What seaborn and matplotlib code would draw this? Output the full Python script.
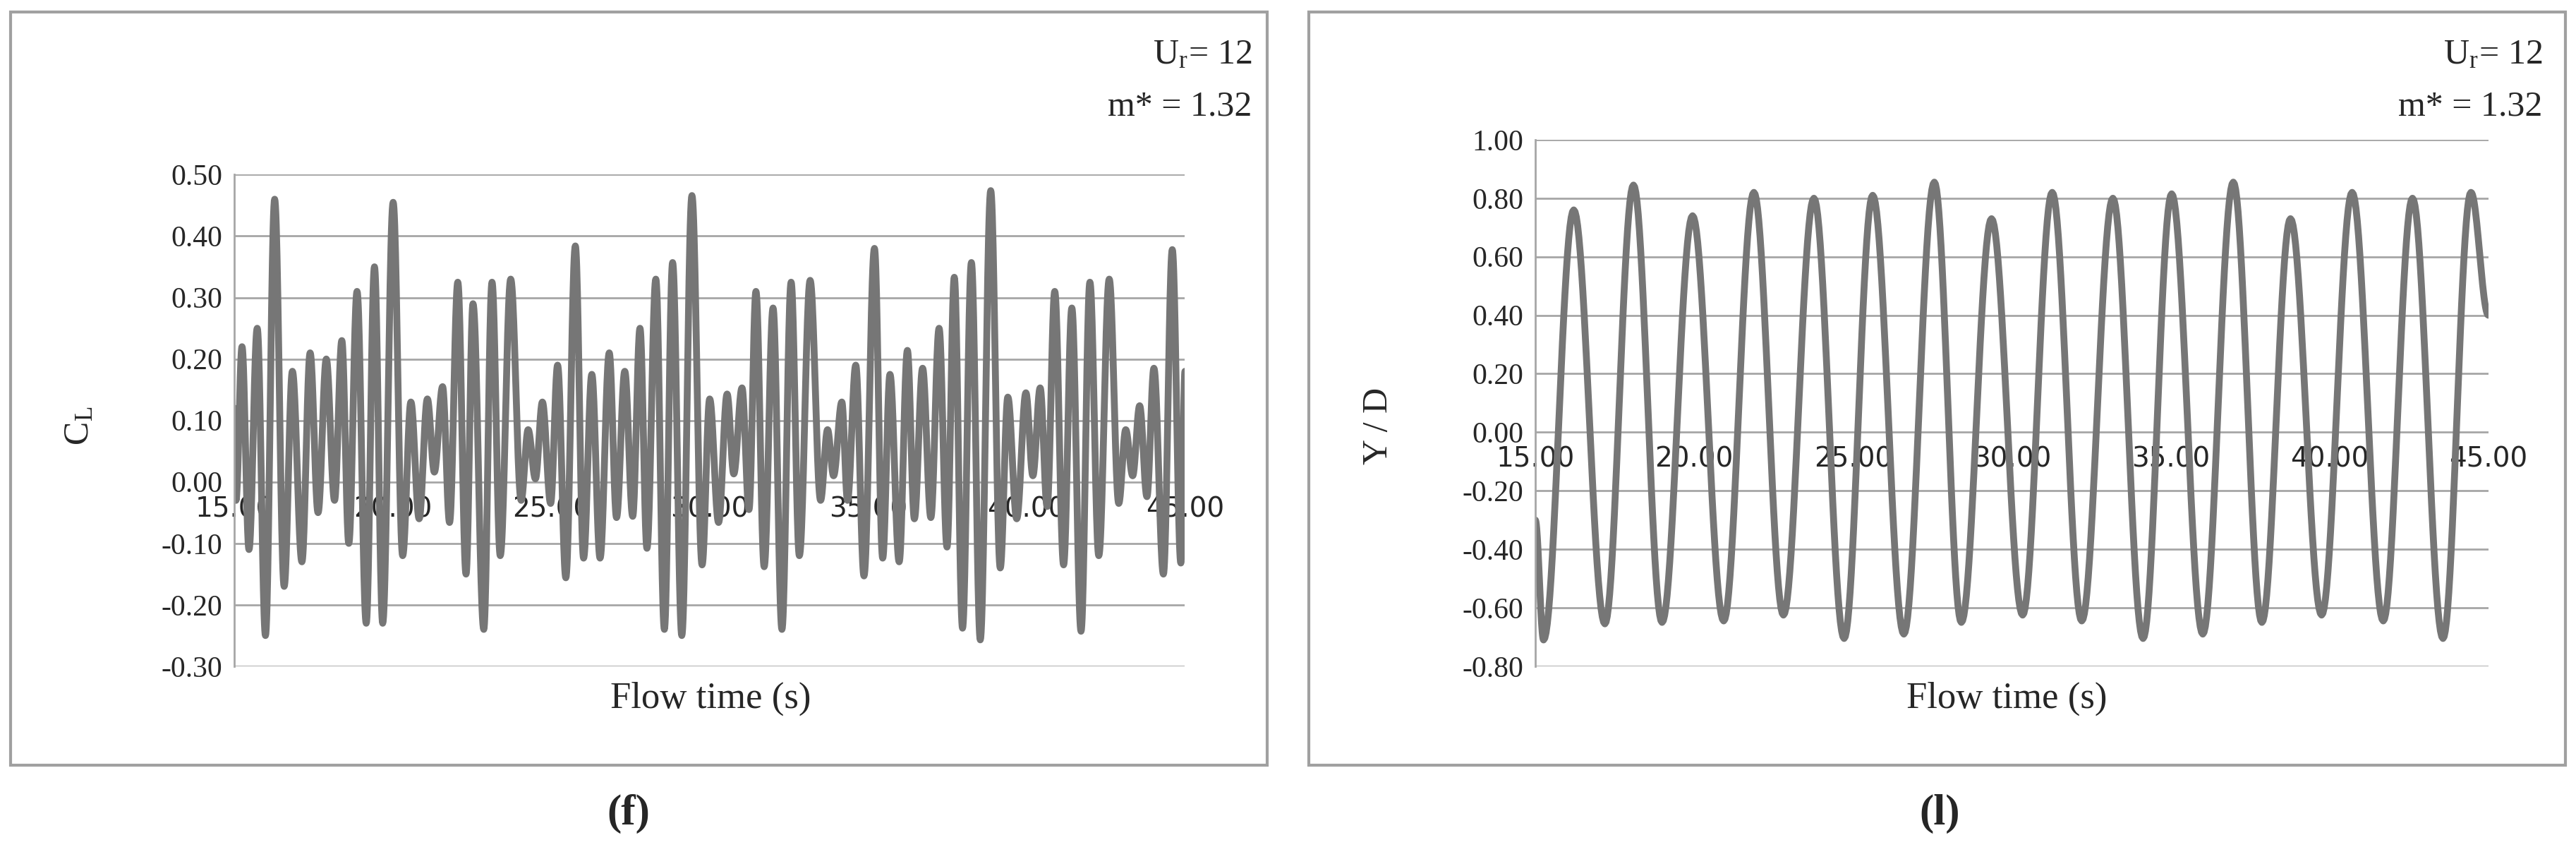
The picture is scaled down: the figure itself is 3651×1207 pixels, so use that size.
import numpy as np
import pandas as pd
import seaborn as sns
import matplotlib.pyplot as plt
from matplotlib.patches import Rectangle

# Lift coefficient: successive extrema
cl_time = [15.00, 15.05, 15.24, 15.46, 15.72, 15.98, 16.27, 16.57, 16.83, 17.13, 17.39, 17.64, 17.90,
           18.16, 18.39, 18.61, 18.87, 19.16, 19.42, 19.68, 20.01, 20.31, 20.57, 20.83, 21.09,
           21.31, 21.57, 21.79, 22.05, 22.31, 22.53, 22.87, 23.13, 23.39, 23.72, 24.05, 24.27,
           24.50, 24.72, 24.98, 25.20, 25.46, 25.76, 26.02, 26.28, 26.54, 26.83, 27.06, 27.32,
           27.57, 27.80, 28.02, 28.30, 28.57, 28.83, 29.12, 29.44, 29.76, 30.00, 30.28, 30.55,
           30.76, 31.02, 31.24, 31.46, 31.72, 32.00, 32.28, 32.57, 32.83, 33.17, 33.50, 33.72,
           33.91, 34.17, 34.35, 34.61, 34.87, 35.20, 35.46, 35.69, 35.98, 36.24, 36.46, 36.72,
           36.98, 37.24, 37.49, 37.72, 37.98, 38.26, 38.54, 38.87, 39.17, 39.41, 39.69, 39.98,
           40.20, 40.43, 40.65, 40.89, 41.17, 41.43, 41.72, 42.00, 42.28, 42.61, 42.91, 43.13,
           43.35, 43.57, 43.80, 44.02, 44.32, 44.60, 44.87, 45.00]
cl_value = [0.12, -0.03, 0.22, -0.11, 0.25, -0.25, 0.46, -0.17, 0.18, -0.13, 0.21, -0.05, 0.20,
            -0.03, 0.23, -0.10, 0.31, -0.23, 0.35, -0.23, 0.455, -0.12, 0.13, -0.06, 0.135,
            0.016, 0.155, -0.066, 0.325, -0.15, 0.29, -0.24, 0.325, -0.12, 0.33, -0.03, 0.085,
            0.005, 0.13, -0.035, 0.19, -0.156, 0.384, -0.124, 0.175, -0.124, 0.21, -0.058, 0.18,
            -0.056, 0.25, -0.108, 0.33, -0.24, 0.357, -0.25, 0.466, -0.135, 0.135, -0.066, 0.143,
            0.013, 0.153, -0.045, 0.31, -0.138, 0.283, -0.24, 0.325, -0.12, 0.328, -0.03, 0.085,
            0.01, 0.13, -0.03, 0.19, -0.153, 0.38, -0.124, 0.175, -0.13, 0.214, -0.06, 0.185,
            -0.058, 0.25, -0.106, 0.333, -0.238, 0.357, -0.257, 0.474, -0.14, 0.138, -0.06, 0.145,
            0.01, 0.153, -0.04, 0.31, -0.135, 0.283, -0.243, 0.325, -0.12, 0.33, -0.035, 0.085,
            0.01, 0.124, -0.024, 0.185, -0.15, 0.378, -0.132, 0.18]

# Displacement Y/D: successive extrema
yd_time = [15.00, 15.26, 16.21, 17.19, 18.09, 18.99, 19.95, 20.93, 21.88, 22.81, 23.77, 24.72,
           25.62, 26.60, 27.56, 28.41, 29.36, 30.34, 31.27, 32.20, 33.18, 34.13, 35.03, 36.01,
           36.97, 37.87, 38.77, 39.75, 40.71, 41.69, 42.61, 43.57, 44.45, 45.00]
yd_value = [-0.30, -0.71, 0.76, -0.655, 0.845, -0.65, 0.74, -0.645, 0.82, -0.625, 0.80, -0.705,
            0.81, -0.69, 0.855, -0.65, 0.73, -0.625, 0.82, -0.645, 0.80, -0.705, 0.815, -0.69,
            0.855, -0.65, 0.73, -0.625, 0.82, -0.645, 0.80, -0.705, 0.82, 0.40]

x_ticks = [15, 20, 25, 30, 35, 40, 45]


def smooth_track(times, values, n=24):
    # join successive extrema with half-cosine arcs so the trace looks like a signal
    tt, vv = [], []
    for i in range(len(times) - 1):
        s = np.linspace(0, 1, n, endpoint=False)
        tt.extend(times[i] + (times[i + 1] - times[i]) * s)
        vv.extend(values[i] + (values[i + 1] - values[i]) * (1 - np.cos(np.pi * s)) / 2)
    tt.append(times[-1])
    vv.append(values[-1])
    return pd.DataFrame({"t": tt, "v": vv})


def fmt(v):
    return f"{0.0 if abs(v) < 1e-9 else v:.2f}"


sns.set_style("white")
plt.rcParams["font.family"] = ["Liberation Serif", "DejaVu Serif"]
plt.rcParams["mathtext.fontset"] = "stix"

fig = plt.figure(figsize=(36.51, 12.07), dpi=100)

line_col = "#767676"
grid_col = "#a6a6a6"
box_col = "#a0a0a0"

panels = [
    dict(box=(0.004, 0.102, 0.488, 0.884), ax=(0.091, 0.218, 0.369, 0.577),
         data=smooth_track(cl_time, cl_value), ylim=(-0.3, 0.5), ystep=0.1,
         ylabel="C$_\\mathregular{L}$", ylab_x=0.031, tag="(f)", tag_x=0.244,
         label_x=0.276, txt_x=0.486),
    dict(box=(0.508, 0.102, 0.488, 0.884), ax=(0.596, 0.218, 0.370, 0.618),
         data=smooth_track(yd_time, yd_value), ylim=(-0.8, 1.0), ystep=0.2,
         ylabel="Y / D", ylab_x=0.535, tag="(l)", tag_x=0.753,
         label_x=0.779, txt_x=0.987),
]

for p in panels:
    fig.add_artist(Rectangle(p["box"][:2], p["box"][2], p["box"][3], transform=fig.transFigure,
                             fill=False, edgecolor=box_col, linewidth=3))
    ax = fig.add_axes(p["ax"])
    sns.lineplot(data=p["data"], x="t", y="v", ax=ax, color=line_col, linewidth=7,
                 estimator=None, sort=False)
    # x axis crosses at zero, Excel style (set before ticks: this resets them)
    ax.spines["bottom"].set_position(("data", 0))
    ax.spines["bottom"].set_visible(False)
    for s in ["top", "right"]:
        ax.spines[s].set_visible(False)
    ax.spines["left"].set_color(grid_col)
    ax.spines["left"].set_linewidth(2)
    lo, hi = p["ylim"]
    ax.set_xlim(15, 45)
    ax.set_ylim(lo, hi)
    yt = np.round(np.arange(lo, hi + 1e-9, p["ystep"]), 2)
    ax.set_yticks(yt)
    ax.set_yticklabels([fmt(v) for v in yt], fontsize=30)
    ax.set_xticks(x_ticks)
    ax.set_xticklabels([fmt(v) for v in x_ticks], fontsize=28, family="DejaVu Sans")
    ax.yaxis.grid(True, color=grid_col, linewidth=2)
    ax.tick_params(axis="both", length=0)
    ax.tick_params(axis="x", pad=14)
    ax.tick_params(axis="y", pad=12)
    ax.set_xlabel("")
    ax.set_ylabel("")
    fig.text(p["ylab_x"], 0.5, p["ylabel"], rotation=90, ha="center", va="center", fontsize=36)
    fig.text(p["label_x"], 0.18, "Flow time (s)", ha="center", va="center", fontsize=38)
    fig.text(p["txt_x"], 0.935, "U$_\\mathregular{r}$= 12", ha="right", va="center", fontsize=36)
    fig.text(p["txt_x"], 0.875, "m* = 1.32", ha="right", va="center", fontsize=36)
    fig.text(p["tag_x"], 0.045, p["tag"], ha="center", va="center", fontsize=44, fontweight="bold")

fig.savefig("out.png", dpi=100, facecolor="white")
